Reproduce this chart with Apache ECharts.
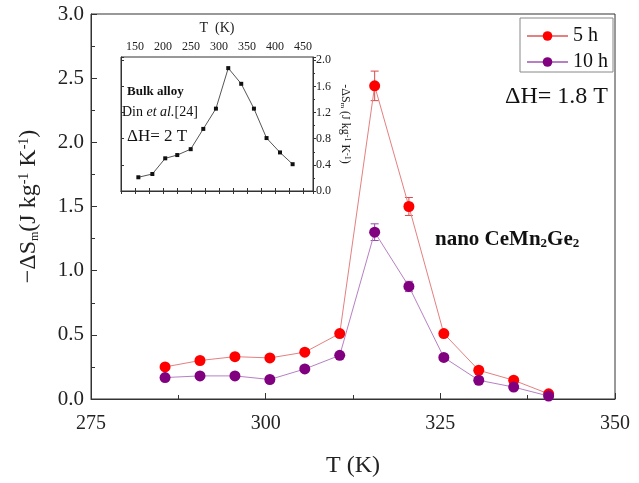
<!DOCTYPE html>
<html>
<head>
<meta charset="utf-8">
<script src="https://cdn.jsdelivr.net/npm/echarts@6/dist/echarts.min.js"></script>
<style>html,body{margin:0;padding:0;background:#fff;}#c{width:639px;height:483px;}</style>
</head>
<body>
<div id="c"></div>
<script>
// ---- data ----
const T_main = [285.6, 290.6, 295.6, 300.6, 305.6, 310.6, 315.6, 320.5, 325.5, 330.5, 335.5, 340.5];
const s5h   = [0.25, 0.30, 0.33, 0.32, 0.365, 0.51, 2.44, 1.50, 0.51, 0.224, 0.146, 0.04];
const err5h = [0.01, 0.01, 0.01, 0.01, 0.01, 0.015, 0.115, 0.07, 0.015, 0.01, 0.01, 0.01];
const s10h  = [0.167, 0.18, 0.18, 0.152, 0.234, 0.34, 1.30, 0.877, 0.324, 0.146, 0.093, 0.023];
const err10h= [0.01, 0.01, 0.01, 0.01, 0.01, 0.015, 0.065, 0.04, 0.015, 0.01, 0.01, 0.01];
const T_bulk = [156, 181, 204, 225.5, 249.5, 272, 294.6, 316.6, 339.8, 362.5, 385, 409, 431.6];
const s_bulk = [0.21, 0.26, 0.50, 0.55, 0.64, 0.95, 1.26, 1.88, 1.64, 1.26, 0.81, 0.59, 0.41];
const seriesNames = ['5 h', '10 h'];

const FF = '"Liberation Serif", "Times New Roman", serif';
const chart = echarts.init(document.getElementById('c'), null, {renderer: 'canvas'});

function errItem(color) {
  return function (params, api) {
    const x = api.value(0), y = api.value(1), e = api.value(2);
    const top = api.coord([x, y + e]);
    const bot = api.coord([x, y - e]);
    const w = 4;
    const st = {stroke: color, lineWidth: 1};
    return {type: 'group', children: [
      {type: 'line', shape: {x1: top[0], y1: top[1], x2: bot[0], y2: bot[1]}, style: st},
      {type: 'line', shape: {x1: top[0] - w, y1: top[1], x2: top[0] + w, y2: top[1]}, style: st},
      {type: 'line', shape: {x1: bot[0] - w, y1: bot[1], x2: bot[0] + w, y2: bot[1]}, style: st}
    ]};
  };
}

const axisLineStyle = {lineStyle: {color: '#333', width: 1}};

const option = {
  backgroundColor: '#fff',
  animation: false,
  grid: [
    {left: 91, top: 14, right: 24, bottom: 80, show: true, borderColor: '#333', borderWidth: 1},
    {left: 121, top: 57, width: 192, height: 134, show: true, borderColor: '#333', borderWidth: 1}
  ],
  legend: {
    data: seriesNames, orient: 'vertical', left: 520, top: 18,
    borderColor: '#888', borderWidth: 1, padding: [8, 5, 0, 6],
    itemWidth: 41, itemHeight: 12, itemGap: 6,
    textStyle: {fontFamily: FF, fontSize: 20, color: '#111'}
  },
  xAxis: [
    {gridIndex: 0, type: 'value', min: 275, max: 350, interval: 25,
     axisLine: axisLineStyle, axisTick: {inside: true, length: 6, lineStyle: {color: '#333'}},
     minorTick: {show: true, splitNumber: 2, length: 4, lineStyle: {color: '#333'}},
     splitLine: {show: false},
     axisLabel: {fontFamily: FF, fontSize: 20, color: '#222', margin: 15},
     name: 'T (K)', nameLocation: 'middle', nameGap: 55,
     nameTextStyle: {fontFamily: FF, fontSize: 24, color: '#222'}},
    {gridIndex: 1, type: 'value', position: 'top', min: 125, max: 468, interval: 25,
     axisLine: axisLineStyle, axisTick: {inside: true, length: 3, lineStyle: {color: '#333'}},
     splitLine: {show: false},
     axisLabel: {fontFamily: FF, fontSize: 12, color: '#222', margin: 4,
       formatter: v => (v % 50 === 0 && v >= 150 && v <= 450) ? String(v) : ''},
     name: 'T  (K)', nameLocation: 'middle', nameGap: 22,
     nameTextStyle: {fontFamily: FF, fontSize: 14, color: '#222'}},
    {gridIndex: 1, type: 'value', position: 'bottom', min: 125, max: 468, interval: 25,
     axisLine: axisLineStyle, axisTick: {inside: true, length: 3, lineStyle: {color: '#333'}},
     splitLine: {show: false}, axisLabel: {show: false}}
  ],
  yAxis: [
    {gridIndex: 0, type: 'value', min: 0, max: 3, interval: 0.5,
     axisLine: {show: true, lineStyle: {color: '#333'}},
     axisTick: {show: true, inside: true, length: 6, lineStyle: {color: '#333'}},
     minorTick: {show: true, splitNumber: 2, length: 4, lineStyle: {color: '#333'}},
     splitLine: {show: false},
     axisLabel: {fontFamily: FF, fontSize: 21, color: '#222', margin: 7, formatter: v => v.toFixed(1)},
     name: '{a|−ΔS}{sub|m}{a|(J kg}{sup|-1}{a| K}{sup|-1}{a|)}',
     nameLocation: 'middle', nameGap: 50,
     nameTextStyle: {color: '#222', rich: {
       a: {fontFamily: FF, fontSize: 24, color: '#222'},
       sub: {fontFamily: FF, fontSize: 12, color: '#222', verticalAlign: 'bottom'},
       sup: {fontFamily: FF, fontSize: 14, color: '#222', verticalAlign: 'top'}
     }}},
    {gridIndex: 1, type: 'value', position: 'right', min: 0, max: 2.05, interval: 0.4,
     axisLine: {show: true, lineStyle: {color: '#333'}},
     axisTick: {show: true, inside: false, length: 3, lineStyle: {color: '#333'}},
     minorTick: {show: true, splitNumber: 2, length: 2, lineStyle: {color: '#333'}},
     splitLine: {show: false},
     axisLabel: {fontFamily: FF, fontSize: 12, color: '#222', margin: 3,
       formatter: v => v <= 2.001 ? v.toFixed(1) : ''},
     name: '{a|-ΔS}{sub|m}{a| (J kg}{sup|-1}{a| K}{sup|-1}{a|)}',
     nameLocation: 'middle', nameGap: 26, nameRotate: -90,
     nameTextStyle: {color: '#222', rich: {
       a: {fontFamily: FF, fontSize: 12, color: '#222'},
       sub: {fontFamily: FF, fontSize: 7, color: '#222', verticalAlign: 'bottom'},
       sup: {fontFamily: FF, fontSize: 8, color: '#222', verticalAlign: 'top'}
     }}},
    {gridIndex: 1, type: 'value', position: 'left', min: 0, max: 2.05, interval: 0.4,
     axisLine: {show: true, lineStyle: {color: '#333'}},
     axisTick: {show: true, inside: true, length: 3, lineStyle: {color: '#333'}},
     splitLine: {show: false}, axisLabel: {show: false}}
  ],
  series: [
    {type: 'custom', name: 'err10', xAxisIndex: 0, yAxisIndex: 0, z: 2,
     renderItem: errItem('#9a4aa8'), encode: {x: 0, y: 1},
     data: T_main.map((t, i) => [t, s10h[i], err10h[i]])},
    {type: 'custom', name: 'err5', xAxisIndex: 0, yAxisIndex: 0, z: 2,
     renderItem: errItem('#d84a4a'), encode: {x: 0, y: 1},
     data: T_main.map((t, i) => [t, s5h[i], err5h[i]])},
    {type: 'line', name: seriesNames[0], xAxisIndex: 0, yAxisIndex: 0, z: 3,
     data: T_main.map((t, i) => [t, s5h[i]]),
     symbol: 'circle', symbolSize: 11, showAllSymbol: true,
     itemStyle: {color: '#ff0000'}, lineStyle: {color: '#e58080', width: 1}},
    {type: 'line', name: seriesNames[1], xAxisIndex: 0, yAxisIndex: 0, z: 4,
     data: T_main.map((t, i) => [t, s10h[i]]),
     symbol: 'circle', symbolSize: 11, showAllSymbol: true,
     itemStyle: {color: '#800080'}, lineStyle: {color: '#b780c4', width: 1}},
    {type: 'line', name: 'bulk', xAxisIndex: 1, yAxisIndex: 1, z: 3,
     data: T_bulk.map((t, i) => [t, s_bulk[i]]),
     symbol: 'rect', symbolSize: 4,
     itemStyle: {color: '#111'}, lineStyle: {color: '#555', width: 1}}
  ],
  graphic: [
    {type: 'text', x: 608, y: 97, style: {text: 'ΔH= 1.8 T', fontFamily: FF, fontSize: 24, fill: '#111', align: 'right', verticalAlign: 'middle'}},
    {type: 'text', x: 435, y: 240, style: {
      text: '{b|nano CeMn}{s|2}{b|Ge}{s|2}', verticalAlign: 'middle', align: 'left',
      rich: {b: {fontFamily: FF, fontSize: 21, fontWeight: 'bold', fill: '#111'},
             s: {fontFamily: FF, fontSize: 13, fontWeight: 'bold', fill: '#111', verticalAlign: 'bottom', padding: [6, 0, 0, 0]}}}},
    {type: 'text', x: 127, y: 92, style: {text: 'Bulk alloy', fontFamily: FF, fontSize: 13, fontWeight: 'bold', fill: '#111', verticalAlign: 'middle'}},
    {type: 'text', x: 122, y: 112, style: {
      text: '{n|Din }{i|et al.}{n|[24]}', verticalAlign: 'middle',
      rich: {n: {fontFamily: FF, fontSize: 14, fill: '#111'}, i: {fontFamily: FF, fontSize: 14, fontStyle: 'italic', fill: '#111'}}}},
    {type: 'text', x: 127, y: 137, style: {text: 'ΔH= 2 T', fontFamily: FF, fontSize: 17, fill: '#111', verticalAlign: 'middle'}}
  ]
};
chart.setOption(option);
</script>
</body>
</html>
